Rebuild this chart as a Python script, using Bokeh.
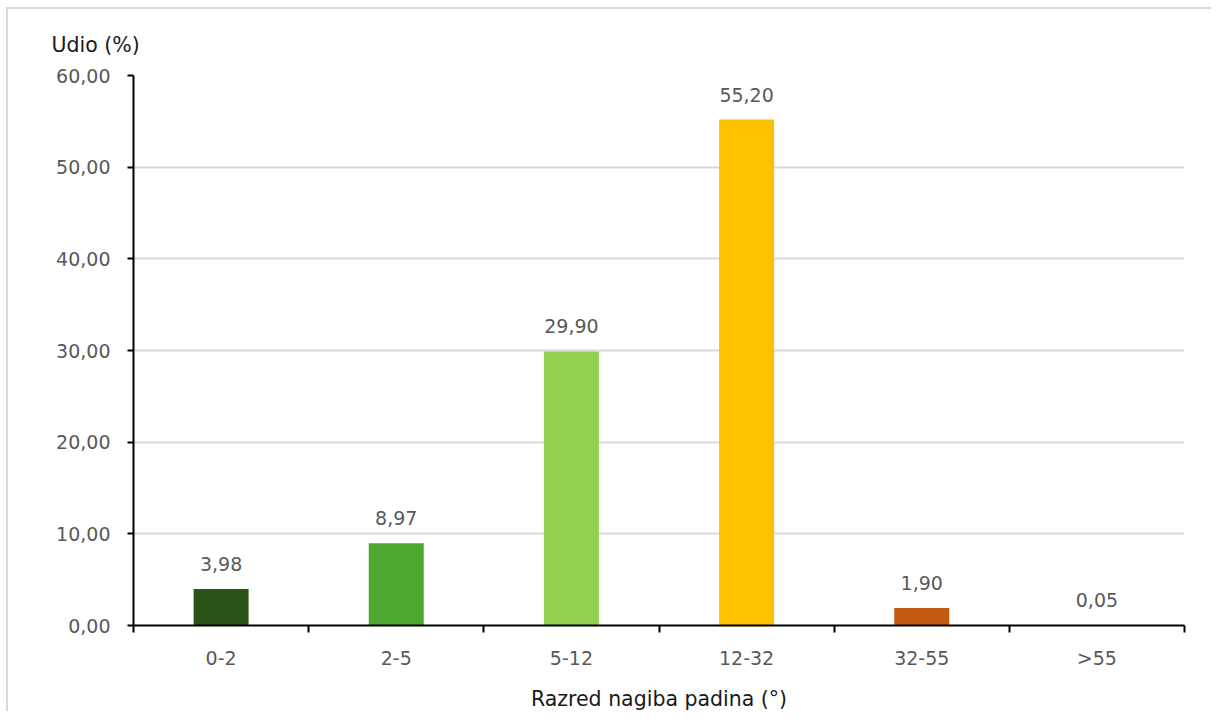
from bokeh.plotting import figure
from bokeh.models import Range1d, FixedTicker, ColumnDataSource
from bokeh.core.properties import value
from bokeh.embed import file_html
from bokeh.resources import INLINE

# ---- data ----
categories = ["0-2", "2-5", "5-12", "12-32", "32-55", ">55"]
shares = [3.98, 8.97, 29.90, 55.20, 1.90, 0.05]
bar_colors = ["#2a5318", "#4ea72e", "#92d050", "#ffc000", "#c55a11", "#c00000"]
y_ticks = [0, 10, 20, 30, 40, 50, 60]
y_title = "Udio (%)"
x_title = "Razred nagiba padina (°)"

def fmt(v):
    return f"{v:.2f}".replace(".", ",")

FONT = "DejaVu Sans"
GRAY = "#595959"

n = len(categories)
centers = [i + 0.5 for i in range(n)]          # slot centres of each category
bounds = [float(i) for i in range(n + 1)]      # slot boundaries (tick marks)

src = ColumnDataSource(dict(x=centers, cat=categories, val=shares, color=bar_colors,
                            lab=[fmt(v) for v in shares]))

p = figure(x_range=Range1d(0, n), y_range=Range1d(0, 60),
           width=1205, height=704,
           output_backend="svg", toolbar_location=None,
           min_border_left=125, min_border_right=29,
           min_border_top=66, min_border_bottom=86)
p.styles = {"margin-left": "6px", "margin-top": "7px",
            "border-top": "2px solid #d9d9d9", "border-left": "2px solid #d9d9d9"}
p.outline_line_color = None
p.background_fill_color = "white"
p.border_fill_color = "white"

# y-axis title placed horizontally above the axis, as in the original
p.title.text = y_title
p.title.align = "left"
p.title.offset = -82
p.title.standoff = 38
p.title.text_font = FONT
p.title.text_font_size = "20.5px"
p.title.text_font_style = "normal"
p.title.text_color = "#1a1a1a"

p.vbar(x="x", top="val", width=0.314, fill_color="color", line_color=None, source=src)
p.text(x="x", y="val", text="lab", source=src, text_align="center",
       text_baseline="alphabetic", y_offset=-25,
       text_font=value(FONT), text_font_size="19px", text_color=GRAY)

xax = p.xaxis[0]
xax.ticker = FixedTicker(ticks=centers, minor_ticks=bounds)
xax.major_label_overrides = {c: cat for c, cat in zip(centers, categories)}
xax.major_tick_out = 0
xax.major_tick_in = 0
xax.minor_tick_out = 7
xax.minor_tick_in = 0
xax.minor_tick_line_color = "black"
xax.minor_tick_line_width = 2
xax.axis_line_color = "black"
xax.axis_line_width = 2
xax.major_label_standoff = 14
xax.major_label_text_font = FONT
xax.major_label_text_font_size = "19px"
xax.major_label_text_color = GRAY
xax.axis_label = x_title
xax.axis_label_standoff = 15
xax.axis_label_text_font = FONT
xax.axis_label_text_font_size = "20.5px"
xax.axis_label_text_font_style = "normal"
xax.axis_label_text_color = "#1a1a1a"

yax = p.yaxis[0]
yax.ticker = FixedTicker(ticks=y_ticks)
yax.major_label_overrides = {t: fmt(t) for t in y_ticks}
yax.minor_tick_line_color = None
yax.major_tick_out = 6
yax.major_tick_in = 0
yax.major_tick_line_width = 2
yax.major_tick_line_color = "black"
yax.axis_line_color = "black"
yax.axis_line_width = 2
yax.major_label_standoff = 17
yax.major_label_text_font = FONT
yax.major_label_text_font_size = "19px"
yax.major_label_text_color = GRAY

p.xgrid.grid_line_color = None
p.ygrid.ticker = FixedTicker(ticks=y_ticks)
p.ygrid.grid_line_color = "#d9d9d9"
p.ygrid.grid_line_width = 2

open("out.html", "w").write(file_html(p, INLINE))
